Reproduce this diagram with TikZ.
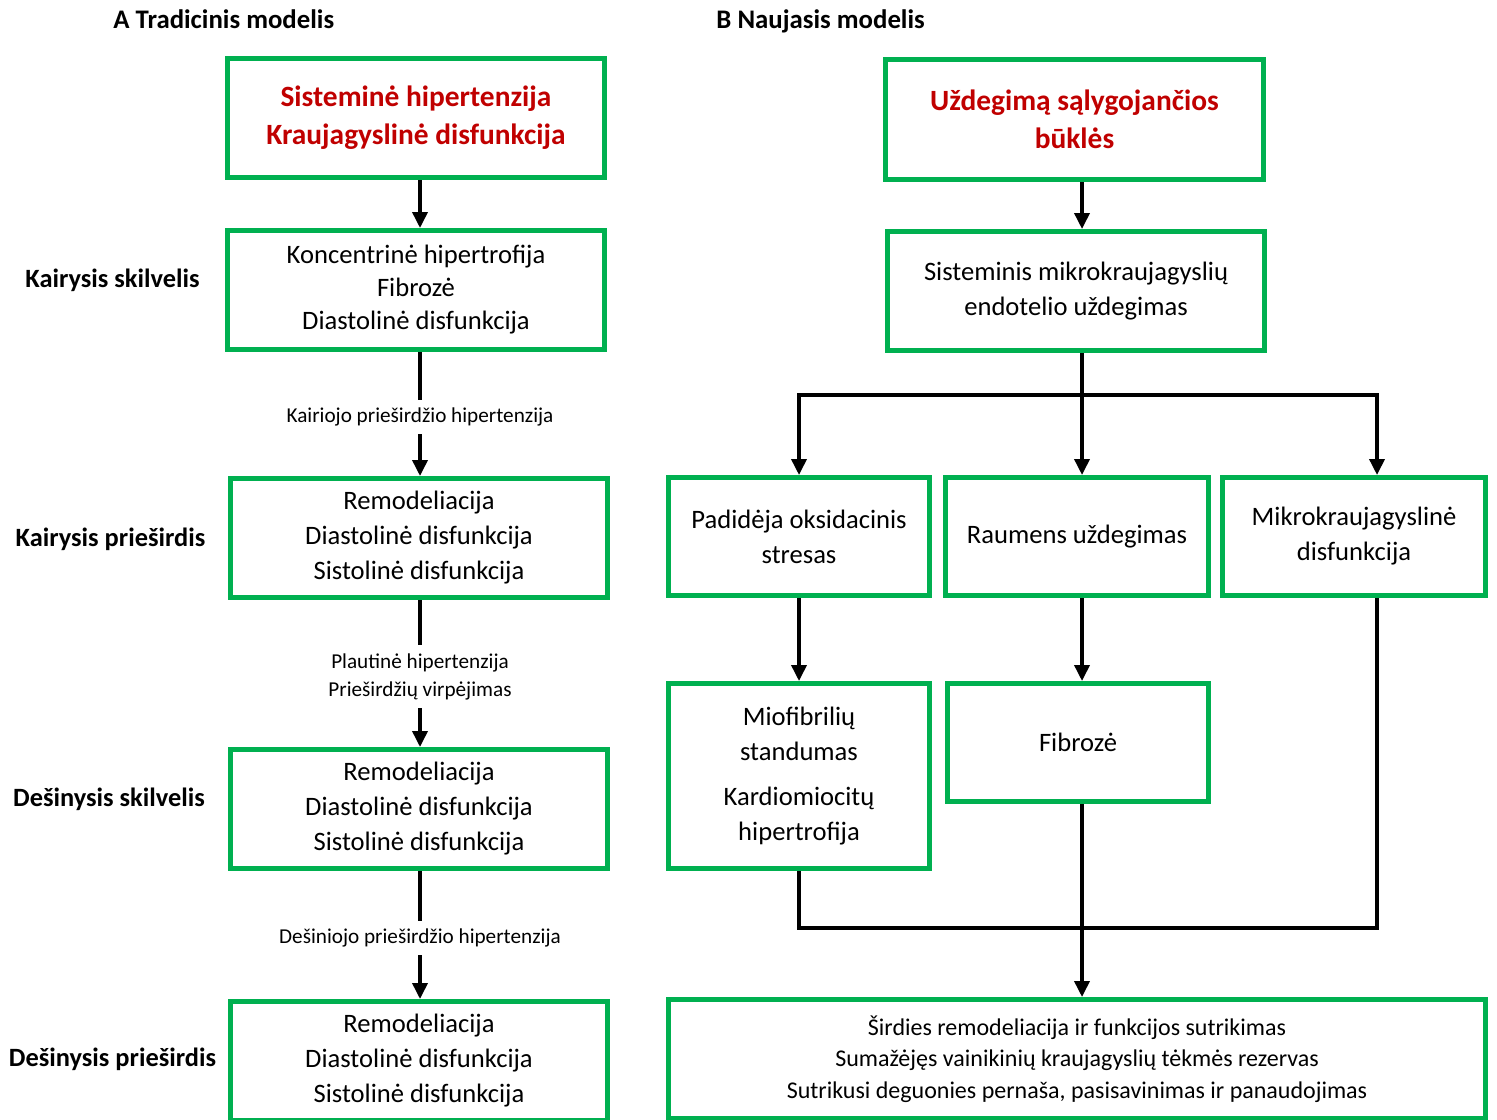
\documentclass[tikz,border=0pt]{standalone}
\usepackage{fontspec}
\setmainfont{Carlito}
\usetikzlibrary{arrows.meta,calc}
\definecolor{BoxClr}{RGB}{0,176,80}
\definecolor{HeadClr}{RGB}{192,0,0}

\begin{document}
\begin{tikzpicture}[x=0.5pt,y=-0.5pt,
  >={Triangle[length=8pt,width=7.5pt]},
  box/.style={draw=BoxClr,line width=2.5pt,inner sep=0pt,align=center,
    font=\fontsize{13.3}{17.5}\selectfont},
  headbox/.style={box,text=HeadClr,font=\fontsize{14.7}{19}\selectfont\bfseries},
  wbox/.style={box,minimum width=188.5pt,minimum height=59.5pt},
  nbox/.style={box,minimum width=130.5pt,minimum height=59pt},
  paneltitle/.style={anchor=base west,inner sep=0pt,font=\fontsize{13.4}{16}\selectfont\bfseries},
  rowlbl/.style={anchor=base,inner sep=0pt,font=\fontsize{13.2}{16}\selectfont\bfseries},
  steplbl/.style={fill=white,inner xsep=2pt,inner ysep=4pt,align=center,yshift=-1.5pt,
    font=\fontsize{10.6}{14}\selectfont},
  ln/.style={line width=1.8pt},
  arr/.style={ln,->}]
\useasboundingbox (0,0) rectangle (1497,1119);

\node[paneltitle] (ta) at (113,28.5) {A Tradicinis modelis};
\node[paneltitle] (tb) at (716,28.5) {B Naujasis modelis};

% A: traditional chain
\node[headbox,minimum width=188.5pt,minimum height=59.5pt] (sh) at (416,118) {Sisteminė hipertenzija\\Kraujagyslinė disfunkcija};
\node[wbox,font=\fontsize{13.3}{16.5}\selectfont] (ks) at (416,290) {Koncentrinė hipertrofija\\Fibrozė\\Diastolinė disfunkcija};
\node[wbox] (kp) at (419,538) {Remodeliacija\\Diastolinė disfunkcija\\Sistolinė disfunkcija};
\node[wbox] (ds) at (419,809) {Remodeliacija\\Diastolinė disfunkcija\\Sistolinė disfunkcija};
\node[wbox] (dp) at (419,1061) {Remodeliacija\\Diastolinė disfunkcija\\Sistolinė disfunkcija};

\node[rowlbl] (rks) at (112.5,287.5) {Kairysis skilvelis};
\node[rowlbl] (rkp) at (110.5,546.5) {Kairysis prieširdis};
\node[rowlbl] (rds) at (109,806.5) {Dešinysis skilvelis};
\node[rowlbl] (rdp) at (112.5,1066.5) {Dešinysis prieširdis};

\coordinate (ca) at (420,0);
\draw[arr] (sh.south -| ca) -- (ks.north -| ca);
\draw[arr] (ks.south -| ca) -- (kp.north -| ca)
  node[steplbl,midway] (lkp) {Kairiojo prieširdžio hipertenzija};
\draw[arr] (kp.south -| ca) -- (ds.north -| ca)
  node[steplbl,midway] (lds) {Plautinė hipertenzija\\Prieširdžių virpėjimas};
\draw[arr] (ds.south -| ca) -- (dp.north -| ca)
  node[steplbl,midway] (ldp) {Dešiniojo prieširdžio hipertenzija};

% B: new model
\node[headbox,minimum width=189pt,minimum height=60pt] (ud) at (1074.5,119.5) {Uždegimą sąlygojančios\\būklės};
\node[wbox] (me) at (1076,291) {Sisteminis mikrokraujagyslių\\endotelio uždegimas};
\node[nbox] (ox) at (799,536.5) {Padidėja oksidacinis\\stresas};
\node[nbox,minimum width=131.5pt] (ru) at (1077,536.5) {Raumens uždegimas};
\node[nbox,minimum width=131.5pt] (mk) at (1354,536.5) {Mikrokraujagyslinė\\disfunkcija};
\node[nbox,minimum height=92.5pt] (mf) at (799,776) {Miofibrilių\\standumas\\[5pt]Kardiomiocitų\\hipertrofija};
\node[nbox] (fb) at (1078,742.5) {Fibrozė};
\node[box,font=\fontsize{12}{15.7}\selectfont,minimum width=408.5pt,minimum height=59.5pt] (rez) at (1077,1059)
  {Širdies remodeliacija ir funkcijos sutrikimas\\Sumažėjęs vainikinių kraujagyslių tėkmės rezervas\\Sutrikusi deguonies pernaša, pasisavinimas ir panaudojimas};

\coordinate (cm) at (1082,0);
\coordinate (cr) at (1377,0);
\coordinate (br) at (0,395);
\coordinate (jn) at (0,928);
\draw[arr] (ud.south -| cm) -- (me.north -| cm);
\draw[arr] (me.south -| cm) -- (ru.north -| cm);
\draw[ln,<->] (ox.north) |- (br -| cr) -- (mk.north -| cr);
\draw[arr] (ox.south) -- (mf.north);
\draw[arr] (ru.south -| cm) -- (fb.north -| cm);
\draw[ln] (mf.south) |- (jn -| cr) -- (mk.south -| cr);
\draw[arr] (fb.south -| cm) -- (rez.north -| cm);

\end{tikzpicture}
\end{document}
